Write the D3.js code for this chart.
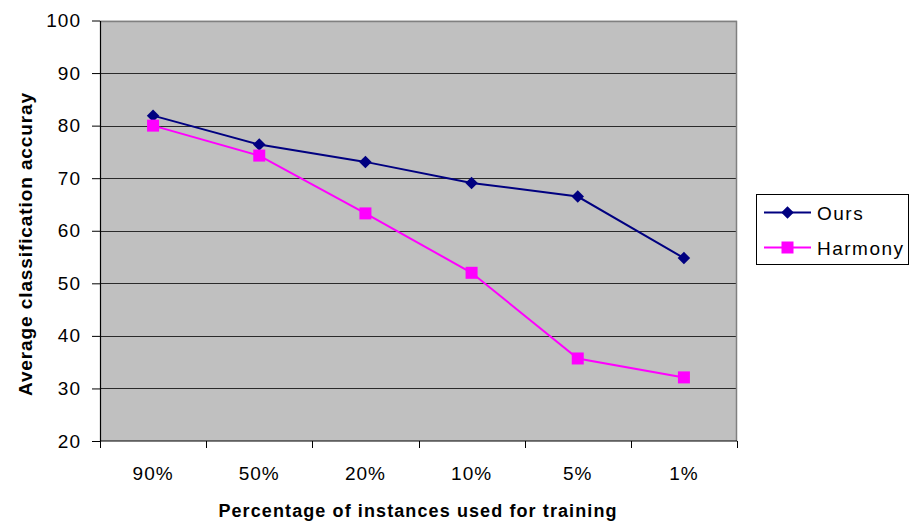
<!DOCTYPE html>
<html>
<head>
<meta charset="utf-8">
<script src="https://cdn.jsdelivr.net/npm/d3@7"></script>
<style>
  html, body { margin: 0; padding: 0; background: #fff; }
  svg { display: block; font-family: "Liberation Sans", Arial, sans-serif; }
</style>
</head>
<body>
<svg id="chart" width="910" height="521"></svg>
<script>
// Training-set percentages along the x axis
const categories = ["90%", "50%", "20%", "10%", "5%", "1%"];
// Average classification accuracy per method
const oursValues = [81.9, 76.4, 73.1, 69.1, 66.5, 54.8];
const harmonyValues = [80.0, 74.3, 63.3, 52.0, 35.7, 32.1];
const yTicks = [20, 30, 40, 50, 60, 70, 80, 90, 100];

const series = [
  { name: "Ours", values: oursValues, color: "#000080", marker: "diamond" },
  { name: "Harmony", values: harmonyValues, color: "#FF00FF", marker: "square" }
];

const svg = d3.select("#chart");
const plot = { left: 100, right: 737, top: 20.5, bottom: 441 };

const x = d3.scaleBand().domain(categories).range([plot.left, plot.right]);
const y = d3.scaleLinear().domain([20, 100]).range([plot.bottom, plot.top]);
const cx = c => x(c) + x.bandwidth() / 2;

// Plot background
svg.append("rect")
  .attr("x", plot.left).attr("y", plot.top)
  .attr("width", plot.right - plot.left).attr("height", plot.bottom - plot.top)
  .attr("fill", "#C0C0C0");

// Horizontal gridlines
svg.append("g").selectAll("line")
  .data(yTicks.filter(d => d > 20 && d < 100))
  .join("line")
  .attr("x1", plot.left).attr("x2", plot.right)
  .attr("y1", d => Math.round(y(d)) + 0.5).attr("y2", d => Math.round(y(d)) + 0.5)
  .attr("stroke", "#2a2a2a").attr("stroke-width", 1.2);

// Plot border (top and right in gray)
svg.append("path")
  .attr("d", `M${plot.left},${Math.round(plot.top) + 0.5}H${plot.right - 0.5}V${plot.bottom}`)
  .attr("fill", "none").attr("stroke", "#808080").attr("stroke-width", 1.5);

// Y axis
const yAxis = d3.axisLeft(y).tickValues(yTicks).tickSize(8).tickPadding(11).tickSizeOuter(0);
const gy = svg.append("g")
  .attr("transform", `translate(${plot.left},0)`)
  .call(yAxis);
gy.select(".domain").attr("stroke", "#000").attr("stroke-width", 1.2);
gy.selectAll(".tick line").attr("stroke", "#000");
gy.selectAll(".tick text")
  .attr("font-size", 19).attr("letter-spacing", 1).attr("fill", "#000")
  .attr("font-family", "Liberation Sans, Arial, sans-serif");

// X axis: ticks on category boundaries
const gx = svg.append("g").attr("transform", `translate(0,${plot.bottom})`);
gx.append("line")
  .attr("x1", plot.left).attr("x2", plot.right)
  .attr("stroke", "#000").attr("stroke-width", 1.2);
const boundaries = categories.map(c => x(c)).concat([x(categories[categories.length - 1]) + x.bandwidth()]);
gx.selectAll("line.tick")
  .data(boundaries)
  .join("line")
  .attr("class", "tick")
  .attr("x1", d => Math.round(d) + 0.5).attr("x2", d => Math.round(d) + 0.5)
  .attr("y1", 0).attr("y2", 7)
  .attr("stroke", "#000");
gx.selectAll("text")
  .data(categories)
  .join("text")
  .attr("x", d => cx(d))
  .attr("y", 39)
  .attr("text-anchor", "middle")
  .attr("font-size", 19).attr("letter-spacing", 1)
  .text(d => d);

// Lines and markers
const line = d3.line()
  .x((d, i) => cx(categories[i]))
  .y(d => y(d));

function drawMarker(g, s, px, py) {
  if (s.marker === "diamond") {
    g.append("path")
      .attr("d", d3.symbol(d3.symbolDiamond2, 100))
      .attr("transform", `translate(${px},${py})`)
      .attr("fill", s.color);
  } else {
    g.append("rect")
      .attr("x", px - 6).attr("y", py - 6)
      .attr("width", 12).attr("height", 12)
      .attr("fill", s.color);
  }
}

series.forEach(s => {
  svg.append("path")
    .datum(s.values)
    .attr("d", line)
    .attr("fill", "none")
    .attr("stroke", s.color)
    .attr("stroke-width", 2);
  const g = svg.append("g");
  s.values.forEach((v, i) => drawMarker(g, s, cx(categories[i]), y(v)));
});

// Axis titles
svg.append("text")
  .attr("x", 418).attr("y", 517)
  .attr("text-anchor", "middle")
  .attr("font-size", 18).attr("letter-spacing", 1.1).attr("font-weight", "bold")
  .text("Percentage of instances used for training");

svg.append("text")
  .attr("transform", "translate(32,244) rotate(-90)")
  .attr("text-anchor", "middle")
  .attr("font-size", 19).attr("letter-spacing", 0.9).attr("font-weight", "bold")
  .text("Average classification accuray");

// Legend
const legend = svg.append("g");
legend.append("rect")
  .attr("x", 756.5).attr("y", 194.5)
  .attr("width", 152).attr("height", 70)
  .attr("fill", "#fff").attr("stroke", "#000").attr("stroke-width", 1);
series.forEach((s, i) => {
  const cy = 212.5 + i * 35;
  legend.append("line")
    .attr("x1", 764).attr("x2", 811)
    .attr("y1", cy).attr("y2", cy)
    .attr("stroke", s.color).attr("stroke-width", 2);
  drawMarker(legend, s, 787.5, cy);
  legend.append("text")
    .attr("x", 817).attr("y", cy + 7)
    .attr("font-size", 19).attr("letter-spacing", 1.5)
    .text(s.name);
});
</script>
</body>
</html>
